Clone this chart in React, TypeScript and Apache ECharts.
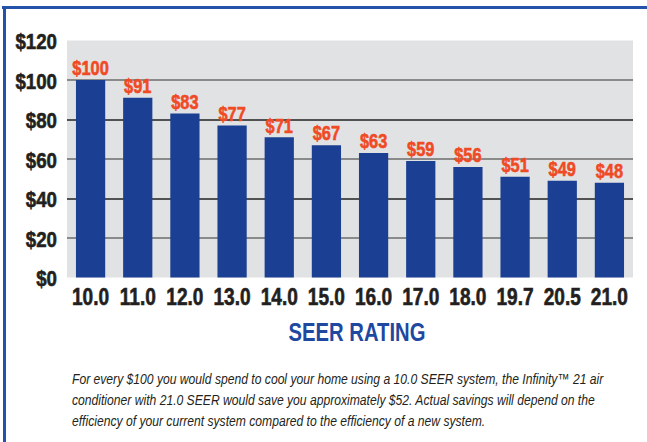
import React, { useEffect, useRef } from "react";
import * as echarts from "echarts";

const categories = ["10.0", "11.0", "12.0", "13.0", "14.0", "15.0", "16.0", "17.0", "18.0", "19.7", "20.5", "21.0"];
const costs = [100, 91, 83, 77, 71, 67, 63, 59, 56, 51, 49, 48];
const yTicks = [0, 20, 40, 60, 80, 100, 120];
const axisTitle = "SEER RATING";
const captionLines = [
  "For every $100 you would spend to cool your home using a 10.0 SEER system, the Infinity\u2122 21 air",
  "conditioner with 21.0 SEER would save you approximately $52. Actual savings will depend on the",
  "efficiency of your current system compared to the efficiency of a new system.",
];

const FONT = '"Liberation Sans", Arial, sans-serif';

function txt(x: number, y: number, text: string, font: string, fill: string, align: string, sx: number, heavy = 0) {
  return {
    type: "text",
    x,
    y,
    scaleX: sx,
    style: {
      text,
      font,
      fill,
      align,
      verticalAlign: "middle",
      textAlign: align,
      textVerticalAlign: "middle",
      ...(heavy ? { stroke: fill, lineWidth: heavy } : {}),
    },
  };
}

export default function App() {
  const ref = useRef<HTMLDivElement>(null);
  useEffect(() => {
    document.body.style.margin = "0";
    const chart = echarts.init(ref.current!, null, { renderer: "svg" });
    chart.setOption({
      animation: false,
      backgroundColor: "#ffffff",
      grid: {
        left: 67,
        right: 14,
        top: 40.5,
        bottom: 164.5,
        show: true,
        backgroundColor: "#e1e2e4",
        borderWidth: 0,
      },
      xAxis: {
        type: "category",
        data: categories,
        axisLine: { show: false },
        axisTick: { show: false },
        axisLabel: { show: false },
      },
      yAxis: {
        type: "value",
        min: yTicks[0],
        max: yTicks[yTicks.length - 1],
        interval: 20,
        axisLine: { show: false },
        axisTick: { show: false },
        axisLabel: { show: false },
        splitLine: {
          show: true,
          showMinLine: false,
          showMaxLine: false,
          lineStyle: { color: ["#6d6d6d", "#222222"], width: 1.5 },
        },
      },
      series: [
        {
          type: "bar",
          data: costs,
          barCategoryGap: "38%",
          itemStyle: { color: "#1b3f93" },
          z: 2,
        },
        {
          // value labels above bars
          type: "custom",
          z: 5,
          data: costs.map((v, i) => [i, v]),
          renderItem: (params: any, api: any) => {
            const p = api.coord([api.value(0), api.value(1)]);
            return txt(p[0], p[1] - 12, "$" + api.value(1), "bold 21px " + FONT, "#f04a24", "center", 0.78, 0.6);
          },
        },
        {
          // category labels
          type: "custom",
          z: 5,
          data: categories.map((c, i) => [i, 0]),
          renderItem: (params: any, api: any) => {
            const i = api.value(0);
            const p = api.coord([i, 0]);
            return txt(p[0], p[1] + 19, categories[i], "bold 23px " + FONT, "#231f20", "center", 0.83, 0.6);
          },
        },
        {
          // y tick labels
          type: "custom",
          z: 5,
          data: yTicks.map((t) => [0, t]),
          renderItem: (params: any, api: any) => {
            const p = api.coord([0, api.value(1)]);
            return txt(params.coordSys.x - 10, p[1] + 1, "$" + api.value(1), "bold 22px " + FONT, "#231f20", "right", 0.85, 0.6);
          },
        },
      ],
      graphic: [
        {
          type: "line",
          shape: { x1: 2, y1: 7.5, x2: 647, y2: 7.5 },
          style: { stroke: "#2352a8", lineWidth: 3 },
        },
        {
          type: "line",
          shape: { x1: 4.5, y1: 6, x2: 4.5, y2: 442 },
          style: { stroke: "#2352a8", lineWidth: 3 },
        },
        txt(357, 332, axisTitle, "bold 25px " + FONT, "#1f48a0", "center", 0.81),
        ...captionLines.map((t, i) => txt(72, 379 + i * 21, t, "italic 15px " + FONT, "#231f20", "left", 0.81)),
      ],
    });
    return () => chart.dispose();
  }, []);
  return <div ref={ref} style={{ width: 647, height: 442 }} />;
}
